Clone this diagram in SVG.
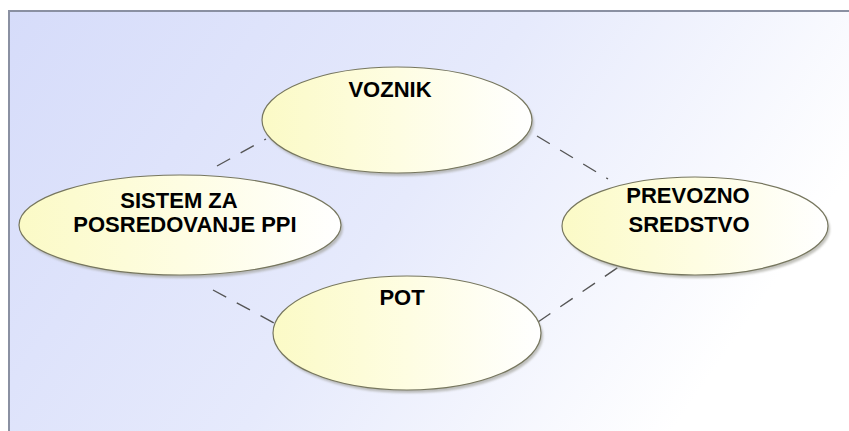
<svg xmlns="http://www.w3.org/2000/svg" width="849" height="431" viewBox="0 0 849 431">
<defs>
<linearGradient id="bg" x1="0" y1="0" x2="1" y2="0.35">
<stop offset="0" stop-color="#d6dcfa"/>
<stop offset="0.55" stop-color="#e6eafc"/>
<stop offset="1" stop-color="#ffffff"/>
</linearGradient>
<linearGradient id="uc" x1="0" y1="0" x2="1" y2="0">
<stop offset="0" stop-color="#fbfac6"/>
<stop offset="0.5" stop-color="#fefde2"/>
<stop offset="1" stop-color="#ffffff"/>
</linearGradient>
<filter id="sh" x="-10%" y="-10%" width="120%" height="130%">
<feGaussianBlur stdDeviation="1.2"/>
</filter>
</defs>
<style>
.uc{fill:url(#uc);stroke:#76765e;stroke-width:1.2}
.shadow{fill:#9a9a90;opacity:0.6;filter:url(#sh)}
.lbl{font-family:"Liberation Sans",Arial,sans-serif;font-weight:bold;font-size:22px;fill:#000;text-anchor:middle}
.conn line{stroke:#555;stroke-width:1.4;stroke-dasharray:15 12;fill:none}
</style>
<rect x="0" y="0" width="849" height="431" fill="#ffffff"/>
<rect x="9" y="11" width="850" height="430" fill="url(#bg)" stroke="#8a90a2" stroke-width="2"/>
<g id="connectors" class="conn">
<line x1="217" y1="166" x2="266" y2="139"/>
<line x1="537" y1="136" x2="608" y2="179"/>
<line x1="213" y1="290" x2="276" y2="324"/>
<line x1="538" y1="322" x2="620" y2="266"/>
</g>
<g id="voznik">
<ellipse class="shadow" cx="399" cy="123" rx="135" ry="53"/>
<ellipse class="uc" cx="397" cy="120" rx="135" ry="53"/>
<text class="lbl" x="390" y="97">VOZNIK</text>
</g>
<g id="sistem">
<ellipse class="shadow" cx="182" cy="228" rx="161" ry="50"/>
<ellipse class="uc" cx="180" cy="225" rx="161" ry="50"/>
<text class="lbl" x="179" y="208">SISTEM ZA</text>
<text class="lbl" x="185" y="232">POSREDOVANJE PPI</text>
</g>
<g id="prevozno">
<ellipse class="shadow" cx="697" cy="229" rx="133" ry="49"/>
<ellipse class="uc" cx="695" cy="226" rx="133" ry="49"/>
<text class="lbl" x="688" y="203">PREVOZNO</text>
<text class="lbl" x="689" y="232">SREDSTVO</text>
</g>
<g id="pot">
<ellipse class="shadow" cx="409" cy="336" rx="134" ry="57"/>
<ellipse class="uc" cx="407" cy="333" rx="134" ry="57"/>
<text class="lbl" x="402" y="305">POT</text>
</g>
</svg>
